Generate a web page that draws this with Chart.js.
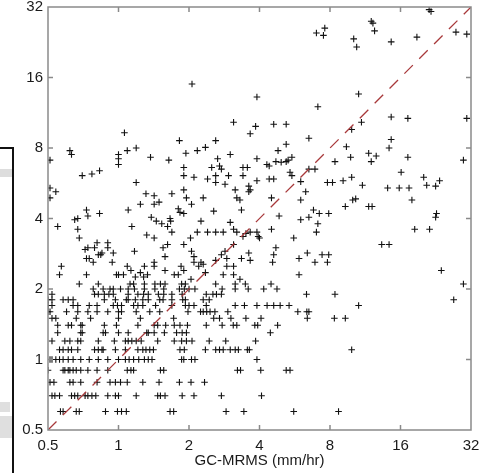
<!DOCTYPE html>
<html lang="en">
  <head>
    <meta charset="UTF-8" />
    <title>GC-MRMS scatter</title>
    <script src="https://cdn.jsdelivr.net/npm/chart.js"></script>
    <style>
      html, body { margin: 0; padding: 0; background: #fff; }
      .grafico { position: relative; width: 481px; height: 473px; }
    </style>
  </head>
  <body>
    <div class="grafico">
      <canvas id="myCanvas" width="481" height="473"></canvas>
    </div>

    <script>
      // tick labels (log2 axes)
      const tickValues = [0.5, 1, 2, 4, 8, 16, 32];

      // low gauge values come in 0.1 steps: one row of MRMS values per gauge level
      const gaugeRows = [0.6, 0.7, 0.8, 0.9, 1.0, 1.1, 1.2, 1.3, 1.4, 1.5, 1.6, 1.7, 1.8, 1.9, 2.0, 2.1];
      const mrmsRows = [
        [0.565, 0.58, 0.66, 0.68, 0.88, 0.99, 1.03, 1.08, 1.66, 1.72, 2.88, 3.43, 5.6, 8.7],
        [0.52, 0.535, 0.56, 0.63, 0.65, 0.67, 0.72, 0.74, 0.77, 0.8, 0.9, 0.97, 1.0, 1.19, 1.47, 1.51, 1.58, 1.87, 2.1, 2.75, 4.08],
        [0.51, 0.53, 0.62, 0.64, 0.69, 0.81, 0.92, 0.97, 1.02, 1.09, 1.27, 1.49, 1.82, 2.04, 2.33],
        [0.5, 0.58, 0.59, 0.61, 0.62, 0.64, 0.66, 0.69, 0.74, 0.81, 0.9, 1.09, 1.13, 1.16, 1.51, 1.56, 3.22, 3.32, 4.05, 5.2, 5.4],
        [0.51, 0.52, 0.54, 0.56, 0.58, 0.61, 0.64, 0.69, 0.75, 0.82, 0.9, 1.0, 1.07, 1.11, 1.16, 1.22, 1.29, 1.34, 1.39, 1.86, 1.9, 2.05, 2.12, 3.9],
        [0.56, 0.58, 0.61, 0.63, 0.67, 0.79, 0.82, 0.85, 0.86, 0.97, 1.07, 1.21, 1.27, 1.31, 1.36, 1.41, 1.83, 1.91, 2.35, 2.6, 2.7, 2.8, 3.0, 3.15, 3.25, 3.55, 3.62],
        [0.52, 0.59, 0.62, 0.67, 0.69, 0.82, 0.96, 1.07, 1.1, 1.14, 1.19, 1.25, 1.47, 1.73, 1.86, 1.95, 2.06, 2.44, 2.87, 3.85],
        [0.55, 0.69, 0.7, 0.86, 0.88, 1.0, 1.1, 1.32, 1.34, 1.42, 1.57, 1.77, 1.87, 1.95, 4.45],
        [0.55, 0.61, 0.63, 0.69, 0.7, 0.87, 0.98, 1.21, 1.42, 1.47, 1.59, 1.73, 1.83, 1.97, 2.37, 2.77, 3.09, 3.2, 3.82, 3.93, 4.78],
        [0.52, 0.54, 0.66, 0.76, 1.0, 1.24, 1.72, 2.55, 2.7, 3.02, 3.5, 4.06, 6.4, 8.35],
        [0.5, 0.51, 0.6, 0.67, 0.74, 0.81, 0.9, 1.0, 1.03, 1.19, 1.36, 1.5, 1.98, 2.24, 2.3, 2.38, 2.46, 2.58, 2.93, 5.83, 6.37, 6.5],
        [0.5, 0.52, 0.64, 0.67, 0.75, 0.81, 0.95, 0.99, 1.03, 1.16, 1.21, 1.27, 1.44, 1.69, 1.93, 2.0, 2.1, 2.37, 3.15, 3.45, 3.9, 4.31, 4.6, 4.9, 5.35],
        [0.5, 0.52, 0.58, 0.61, 0.64, 0.87, 0.97, 1.08, 1.1, 1.18, 1.27, 1.34, 1.5, 1.55, 1.69, 1.88, 1.93, 2.3, 2.44],
        [0.52, 0.79, 0.82, 0.87, 0.91, 0.95, 1.1, 1.21, 1.28, 1.34, 1.48, 1.56, 1.69, 1.87, 2.37, 2.53, 2.62, 2.75, 6.35, 8.4],
        [0.78, 0.86, 0.92, 0.95, 1.02, 1.1, 1.17, 1.29, 1.43, 1.56, 1.82, 1.91, 2.0, 2.12, 2.77, 3.15, 3.58, 4.17, 4.75],
        [0.68, 0.82, 1.12, 1.16, 1.29, 1.43, 1.51, 1.58, 1.86, 1.93, 2.6, 3.15, 3.48, 4.48]
      ];

      // remaining points as [GC-MRMS, gauge]
      const scatteredPoints = [
        [21.2, 31.2], [21.6, 30.6], [12.0, 27.8], [12.2, 27.3], [12.4, 25.3], [10.1, 23.4], [10.4, 21.6],
        [14.6, 22.7], [18.8, 23.8], [27.6, 25], [30.7, 24.5], [7.0, 24.8], [7.5, 24.2], [7.6, 26],
        [2.06, 15.0], [3.9, 13.2], [7.1, 12], [10.6, 13.6], [3.1, 10.3], [3.85, 9.9], [4.6, 10.1], [5.2, 10.1],
        [14.6, 10.85], [17.2, 10.7], [30.7, 10.7], [10.9, 10.3], [9.9, 9.6], [9.4, 8.1], [9.8, 7.3],
        [11.7, 7.6], [12.6, 7.4], [12.0, 7.0], [14.6, 8.7], [14.3, 8.0], [17.2, 7.3], [29.7, 7.1], [16.1, 6.3],
        [9.1, 5.8], [9.9, 6.0], [11.0, 5.55], [14.1, 5.4], [15.8, 5.4], [17.4, 5.4], [20.1, 6.0], [20.7, 5.55],
        [22.6, 5.5], [23.5, 5.8], [17.9, 4.8], [9.3, 4.5], [10.0, 4.8], [10.3, 4.85], [11.7, 4.5], [12.1, 4.5],
        [22.8, 4.2], [22.6, 4.05], [18.4, 3.6], [21.3, 3.6], [13.3, 3.1], [14.3, 3.1], [23.9, 2.4], [29.7, 2.1],
        [27.0, 1.8], [10.6, 1.7], [9.3, 1.5], [9.9, 1.1],
        [1.06, 9.3], [1.82, 8.6], [0.62, 7.8], [0.63, 7.5], [0.51, 7.1], [1.0, 7.5], [1.0, 7.2], [1.0, 6.8],
        [1.09, 7.8], [1.19, 8.0], [1.37, 7.3], [1.64, 7.1], [1.94, 7.6], [2.17, 7.8], [1.9, 6.6], [1.9, 6.1],
        [2.1, 6.0], [0.7, 6.1], [0.77, 6.2], [0.83, 6.4], [1.19, 5.7], [0.51, 5.4], [0.54, 5.2], [0.51, 4.9],
        [1.31, 5.1], [1.42, 5.0], [1.49, 4.7], [1.42, 4.6], [1.24, 4.6], [1.69, 5.1], [1.9, 5.3], [1.95, 4.9],
        [2.05, 4.6], [1.8, 4.4], [1.83, 4.25], [1.9, 4.2], [1.1, 4.35], [0.73, 4.35], [0.74, 4.1], [0.83, 4.2],
        [0.65, 3.95], [0.67, 4.0], [0.55, 3.7], [0.67, 3.6], [0.68, 3.3], [1.14, 3.7], [1.38, 4.05], [1.45, 3.9],
        [1.53, 3.8], [1.62, 3.7], [1.66, 4.0], [1.67, 3.9], [1.69, 3.5], [1.32, 3.4], [1.42, 3.3], [2.03, 3.3],
        [2.17, 3.5], [1.9, 3.1], [2.05, 2.9], [2.1, 2.75], [1.55, 3.0], [1.62, 3.1], [1.58, 2.75], [1.17, 2.9],
        [0.74, 3.0], [0.81, 3.15], [0.9, 3.15], [0.9, 3.0], [0.72, 2.95], [0.73, 2.7], [0.75, 2.7], [0.78, 2.6],
        [0.79, 3.0], [0.82, 2.8], [0.84, 2.8], [0.85, 2.85], [0.95, 2.85], [0.94, 2.6], [0.57, 2.5], [0.56, 2.3],
        [0.73, 2.3], [1.09, 2.5], [1.13, 2.4], [1.18, 2.25], [1.24, 2.35], [1.29, 2.5], [1.33, 2.3], [1.28, 2.25],
        [1.42, 2.6], [1.42, 2.5], [1.58, 2.4], [0.98, 2.3], [1.0, 2.3], [1.05, 2.3], [1.73, 2.3], [1.8, 2.3],
        [1.85, 2.5], [1.9, 2.4], [2.04, 2.2], [2.1, 2.6], [2.2, 2.5],
        [3.65, 9.2], [2.35, 8.05], [2.6, 8.6], [3.0, 7.5], [2.65, 7.2], [2.5, 6.6], [2.7, 6.7], [2.75, 6.5],
        [2.4, 5.9], [2.6, 6.1], [2.6, 5.7], [2.85, 5.6], [2.95, 6.1], [3.4, 6.6], [3.55, 6.6], [3.4, 6.1],
        [3.15, 5.3], [3.2, 4.9], [3.3, 4.8], [3.6, 5.5], [3.65, 5.3], [3.6, 5.2], [3.35, 4.35], [3.9, 5.8],
        [3.9, 7.2], [4.3, 6.8], [4.4, 6.7], [4.8, 7.8], [5.2, 8.3], [4.7, 7.0], [4.95, 6.95], [5.3, 7.1],
        [5.5, 7.3], [5.2, 7.0], [5.4, 6.3], [5.5, 6.1], [4.4, 5.9], [4.6, 5.9], [4.5, 4.9], [6.5, 8.8],
        [6.0, 5.75], [6.5, 6.5], [6.9, 6.5], [8.4, 7.0], [7.8, 5.7], [8.2, 5.7], [6.3, 5.2], [6.0, 4.8],
        [4.85, 4.1], [6.0, 3.95], [6.5, 4.05], [6.8, 4.35], [7.2, 4.2], [7.9, 4.2], [7.1, 3.8], [7.0, 3.5],
        [4.5, 3.6], [5.6, 3.3], [6.4, 2.85], [5.9, 2.7], [5.9, 2.3], [7.4, 2.8], [7.9, 2.8], [7.8, 2.6],
        [6.9, 2.6], [4.6, 2.8], [4.55, 2.6], [4.7, 3.0], [3.6, 2.85], [3.65, 2.65], [3.35, 2.7], [4.0, 3.3],
        [3.9, 3.5], [3.65, 3.5], [3.95, 3.35], [3.0, 3.85], [3.1, 3.6], [3.2, 3.5], [3.4, 3.35], [3.5, 3.45],
        [2.8, 3.5], [2.6, 3.5], [2.4, 3.5], [2.25, 3.9], [2.3, 4.9], [2.55, 4.3], [3.1, 3.1], [2.85, 2.9],
        [2.75, 2.8], [2.6, 2.65], [2.9, 2.7], [2.9, 2.5], [3.1, 2.5], [2.8, 2.3], [3.1, 2.3], [2.25, 2.6],
        [2.3, 2.55], [2.35, 2.35], [3.3, 2.2]
      ];

      // 1:1 reference line
      const diagonal = [0.5, 32];

      const fonte = "'Liberation Sans', Arial, Helvetica, sans-serif";
      const corTexto = "#1a1a1a";
      const corEixo = "#8a8a8a";

      let pontos = [];
      for (let i = 0; i < gaugeRows.length; i++) {
        for (let j = 0; j < mrmsRows[i].length; j++) {
          pontos.push({ x: mrmsRows[i][j], y: gaugeRows[i] });
        }
      }
      for (let i = 0; i < scatteredPoints.length; i++) {
        pontos.push({ x: scatteredPoints[i][0], y: scatteredPoints[i][1] });
      }

      // box frame with inward ticks, plus the edge of the neighbouring panel
      const molduraPlugin = {
        id: "moldura",
        beforeDraw(chart) {
          const ctx = chart.ctx;
          ctx.save();
          ctx.fillStyle = "rgba(170,170,170,0.4)";
          ctx.fillRect(0, 169, 12, 8);
          ctx.fillStyle = "rgba(150,150,150,0.3)";
          ctx.fillRect(0, 402, 10, 10);
          ctx.fillRect(0, 416, 12, 22);
          ctx.strokeStyle = "#111";
          ctx.lineWidth = 2;
          ctx.strokeRect(-5, 148, 18, 340);
          ctx.restore();
        },
        afterDraw(chart) {
          const ctx = chart.ctx;
          const a = chart.chartArea;
          const sx = chart.scales.x;
          const sy = chart.scales.y;
          ctx.save();
          ctx.strokeStyle = corEixo;
          ctx.lineWidth = 1.5;
          ctx.strokeRect(a.left, a.top, a.right - a.left, a.bottom - a.top);
          ctx.beginPath();
          for (let i = 1; i < tickValues.length - 1; i++) {
            const px = sx.getPixelForValue(tickValues[i]);
            ctx.moveTo(px, a.bottom);
            ctx.lineTo(px, a.bottom - 5);
            ctx.moveTo(px, a.top);
            ctx.lineTo(px, a.top + 5);
            const py = sy.getPixelForValue(tickValues[i]);
            ctx.moveTo(a.left, py);
            ctx.lineTo(a.left + 5, py);
            ctx.moveTo(a.right, py);
            ctx.lineTo(a.right - 5, py);
          }
          ctx.stroke();
          ctx.restore();
        }
      };

      function fixarTicks(scale) {
        scale.ticks = tickValues.map(function (v) { return { value: v }; });
      }

      const config = {
        type: "scatter",
        data: {
          datasets: [
            {
              label: "gauge",
              data: pontos,
              pointStyle: "cross",
              pointRadius: 3.3,
              pointHoverRadius: 3.3,
              borderColor: "#111",
              borderWidth: 1.1,
              order: 2
            },
            {
              label: "1:1",
              data: [{ x: diagonal[0], y: diagonal[0] }, { x: diagonal[1], y: diagonal[1] }],
              showLine: true,
              borderColor: "#a8393b",
              borderWidth: 1.3,
              borderDash: [12, 9],
              pointRadius: 0,
              order: 1
            }
          ]
        },
        options: {
          responsive: false,
          animation: false,
          layout: { padding: { top: 7, right: 10, left: 0, bottom: 0 } },
          plugins: {
            legend: { display: false },
            tooltip: { enabled: false }
          },
          scales: {
            x: {
              type: "logarithmic",
              min: 0.5,
              max: 32,
              afterBuildTicks: fixarTicks,
              afterFit: function (s) {
                s.height = 43;
                s.paddingLeft = 0;
                s.paddingRight = 0;
              },
              grid: { display: false, drawTicks: false },
              border: { display: false },
              ticks: {
                autoSkip: false,
                maxRotation: 0,
                padding: 7,
                color: corTexto,
                font: { family: fonte, size: 15 },
                callback: function (v) { return String(v); }
              },
              title: {
                display: true,
                text: "GC-MRMS (mm/hr)",
                color: corTexto,
                font: { family: fonte, size: 15 },
                padding: { top: 0, bottom: 3 }
              }
            },
            y: {
              type: "logarithmic",
              min: 0.5,
              max: 32,
              afterBuildTicks: fixarTicks,
              afterFit: function (s) {
                s.width = 48;
                s.paddingTop = 0;
                s.paddingBottom = 0;
              },
              grid: { display: false, drawTicks: false },
              border: { display: false },
              ticks: {
                autoSkip: false,
                padding: 5,
                color: corTexto,
                font: { family: fonte, size: 15 },
                callback: function (v) { return String(v); }
              }
            }
          }
        },
        plugins: [molduraPlugin]
      };

      const myChart = new Chart(document.getElementById("myCanvas"), config);
    </script>
  </body>
</html>
